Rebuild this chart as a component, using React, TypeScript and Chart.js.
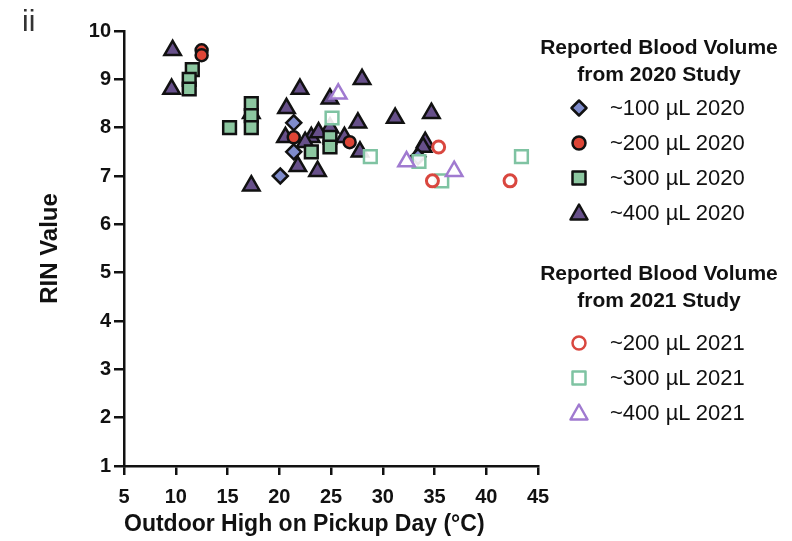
import React, { useEffect, useRef } from "react";
import { Chart, registerables } from "chart.js";
Chart.register(...registerables);

// ---- data ----
const xRange = [5, 45];
const xStep = 5;
const yRange = [1, 10];
const yStep = 1;
const xTitle = "Outdoor High on Pickup Day (°C)";
const yTitle = "RIN Value";
const panelLabel = "ii";

const ul100_2020 = [
  { x: 21.4, y: 8.1 }, { x: 21.4, y: 7.5 }, { x: 20.1, y: 7.0 }, { x: 33.4, y: 7.4 },
];
const ul200_2020 = [
  { x: 12.5, y: 9.6 }, { x: 12.5, y: 9.5 }, { x: 21.4, y: 7.8 }, { x: 26.8, y: 7.7 },
];
const ul300_2020 = [
  { x: 11.6, y: 9.2 }, { x: 11.3, y: 9.0 }, { x: 11.3, y: 8.8 }, { x: 15.2, y: 8.0 },
  { x: 17.3, y: 8.5 }, { x: 17.3, y: 8.25 }, { x: 17.3, y: 8.0 }, { x: 23.1, y: 7.5 },
  { x: 24.9, y: 7.8 }, { x: 24.9, y: 7.6 },
];
const ul400_2020 = [
  { x: 9.7, y: 9.6 }, { x: 9.6, y: 8.8 }, { x: 17.3, y: 8.3 }, { x: 17.3, y: 6.8 },
  { x: 22.0, y: 8.8 }, { x: 20.7, y: 8.4 }, { x: 20.6, y: 7.8 }, { x: 21.8, y: 7.2 },
  { x: 23.7, y: 7.1 }, { x: 24.9, y: 8.6 }, { x: 24.9, y: 8.0 }, { x: 23.1, y: 7.8 },
  { x: 23.8, y: 7.9 }, { x: 22.5, y: 7.7 }, { x: 26.3, y: 7.8 }, { x: 27.6, y: 8.1 },
  { x: 27.8, y: 7.5 }, { x: 28.0, y: 9.0 }, { x: 31.2, y: 8.2 }, { x: 34.7, y: 8.3 },
  { x: 34.1, y: 7.7 }, { x: 33.9, y: 7.6 },
];
const ul200_2021 = [
  { x: 35.4, y: 7.6 }, { x: 34.8, y: 6.9 }, { x: 42.3, y: 6.9 },
];
const ul300_2021 = [
  { x: 25.1, y: 8.2 }, { x: 28.8, y: 7.4 }, { x: 33.5, y: 7.3 }, { x: 35.7, y: 6.9 },
  { x: 43.4, y: 7.4 },
];
const ul400_2021 = [
  { x: 25.7, y: 8.7 }, { x: 32.3, y: 7.3 }, { x: 36.9, y: 7.1 },
];

const legend2020Title = ["Reported Blood Volume", "from 2020 Study"];
const legend2021Title = ["Reported Blood Volume", "from 2021 Study"];
const labels2020 = ["~100 µL 2020", "~200 µL 2020", "~300 µL 2020", "~400 µL 2020"];
const labels2021 = ["~200 µL 2021", "~300 µL 2021", "~400 µL 2021"];

// ---- styles ----
const FONT = "'Liberation Sans', Arial, sans-serif";
const C_DIAM = "#7f8ccc";
const C_RED = "#dd4536";
const C_GREEN = "#8cc7a0";
const C_PURP = "#67508a";
const C_RED21 = "#d9473f";
const C_GREEN21 = "#7fc3a2";
const C_PURP21 = "#a07ad0";

type Mk = { shape: string; fill: string; stroke: string };
const mk2020: Mk[] = [
  { shape: "diamond", fill: C_DIAM, stroke: "#111" },
  { shape: "circle", fill: C_RED, stroke: "#111" },
  { shape: "square", fill: C_GREEN, stroke: "#111" },
  { shape: "triangle", fill: C_PURP, stroke: "#111" },
];
const mk2021: Mk[] = [
  { shape: "circle", fill: "#fff", stroke: C_RED21 },
  { shape: "square", fill: "#fff", stroke: C_GREEN21 },
  { shape: "triangle", fill: "#fff", stroke: C_PURP21 },
];

function Marker({ m }: { m: Mk }) {
  const sw = 2.5;
  let el: any = null;
  if (m.shape === "diamond") el = <polygon points="10,2.5 17.5,10 10,17.5 2.5,10" />;
  else if (m.shape === "circle") el = <circle cx="10" cy="10" r="6.5" />;
  else if (m.shape === "square") el = <rect x="3.5" y="3.5" width="13" height="13" />;
  else el = <polygon points="10,1.5 18.5,16.5 1.5,16.5" />;
  return (
    <svg width="20" height="20" style={{ display: "block" }}>
      <g fill={m.fill} stroke={m.stroke} strokeWidth={sw} strokeLinejoin="round">{el}</g>
    </svg>
  );
}

function LegendGroup({ title, labels, markers, top, itemsTop }: any) {
  return (
    <>
      {title.map((t: string, i: number) => (
        <div key={"t" + i} style={{
          position: "absolute", left: 520, width: 278, top: top + i * 27, textAlign: "center",
          font: `bold 21px ${FONT}`, color: "#111", lineHeight: "24px", whiteSpace: "nowrap",
        }}>{t}</div>
      ))}
      {labels.map((l: string, i: number) => (
        <div key={"l" + i} style={{ position: "absolute", left: 569, top: itemsTop + i * 35, height: 24, display: "flex", alignItems: "center" }}>
          <Marker m={markers[i]} />
          <span style={{ marginLeft: 21, font: `22px ${FONT}`, color: "#111", whiteSpace: "nowrap" }}>{l}</span>
        </div>
      ))}
    </>
  );
}

export default function App() {
  const ref = useRef<HTMLCanvasElement>(null);
  useEffect(() => {
    const ctx = ref.current!;
    const ds = (data: any, m: Mk, style: string, r: number, order: number, bw: number) => ({
      data, pointStyle: style, pointRadius: r, pointHoverRadius: r,
      backgroundColor: m.fill === "#fff" ? "rgba(255,255,255,0.9)" : m.fill,
      borderColor: m.stroke, pointBorderWidth: bw, borderWidth: bw, showLine: false, order,
    });
    const chart = new Chart(ctx, {
      type: "scatter",
      data: {
        datasets: [
          ds(ul400_2020, mk2020[3], "triangle", 9.5, 6, 2.5),
          ds(ul300_2020, mk2020[2], "rect", 9, 5, 2.5),
          ds(ul200_2020, mk2020[1], "circle", 6, 4, 2.5),
          ds(ul100_2020, mk2020[0], "rectRot", 7.5, 3, 2.5),
          ds(ul300_2021, mk2021[1], "rect", 9, 2, 2.5),
          ds(ul400_2021, mk2021[2], "triangle", 9.5, 1, 2.5),
          ds(ul200_2021, mk2021[0], "circle", 6, 0, 3),
        ] as any,
      },
      options: {
        animation: false,
        responsive: false,
        maintainAspectRatio: false,
        events: [],
        layout: { padding: { left: 0, right: 254, top: 31, bottom: 0 } },
        plugins: { legend: { display: false }, tooltip: { enabled: false } },
        scales: {
          x: {
            type: "linear", min: xRange[0], max: xRange[1],
            afterFit: (s: any) => { s.height = 75; },
            ticks: { stepSize: xStep, color: "#111", font: { family: FONT, size: 20, weight: "bold" }, padding: 10, maxRotation: 0 },
            grid: { display: true, drawOnChartArea: false, drawTicks: true, tickLength: 9, color: "#111", lineWidth: 2.5 },
            border: { display: true, color: "#111", width: 2.5 },
            title: { display: true, text: xTitle, color: "#111", font: { family: FONT, size: 23, weight: "bold" }, padding: { top: 0, bottom: 3 }, align: "start" },
          },
          y: {
            type: "linear", min: yRange[0], max: yRange[1],
            afterFit: (s: any) => { s.width = 124; },
            ticks: { stepSize: yStep, color: "#111", font: { family: FONT, size: 20, weight: "bold" }, padding: 3 },
            grid: { display: true, drawOnChartArea: false, drawTicks: true, tickLength: 10, color: "#111", lineWidth: 2.5 },
            border: { display: true, color: "#111", width: 2.5 },
            title: { display: true, text: yTitle, color: "#111", font: { family: FONT, size: 24, weight: "bold" }, padding: { top: 36, bottom: 0 } },
          },
        },
      } as any,
    });
    return () => chart.destroy();
  }, []);
  return (
    <div style={{ position: "absolute", left: 0, top: 0, width: 792, height: 541, background: "#fff", overflow: "hidden" }}>
      <canvas ref={ref} width={792} height={541} style={{ position: "absolute", left: 0, top: 0 }} />
      <div style={{ position: "absolute", left: 22, top: 4, font: `30px ${FONT}`, color: "#333" }}>{panelLabel}</div>
      <LegendGroup title={legend2020Title} labels={labels2020} markers={mk2020} top={35} itemsTop={96} />
      <LegendGroup title={legend2021Title} labels={labels2021} markers={mk2021} top={261} itemsTop={331} />
    </div>
  );
}
